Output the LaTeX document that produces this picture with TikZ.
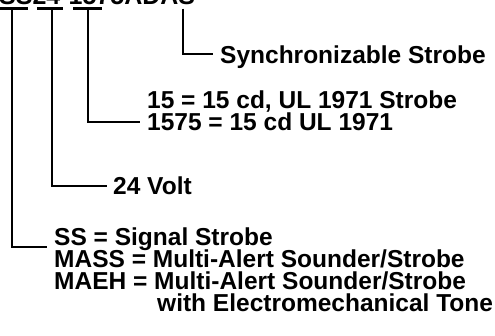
\documentclass[tikz,border=0pt]{standalone}
\usepackage{fontspec}
\setmainfont{Liberation Sans}
\begin{document}
\begin{tikzpicture}[x=1pt,y=-1pt,
  lbl/.style={anchor=base west, inner sep=0pt, font=\bfseries\fontsize{24.5}{22}\selectfont},
  toplbl/.style={anchor=base west, inner sep=0pt, font=\bfseries\fontsize{25}{25}\selectfont},
  conn/.style={line width=2.2pt, line join=miter}]
\useasboundingbox (0,0) rectangle (495,335);
\clip (0,0) rectangle (495,335);
% model number (cut off at top)
\node[toplbl] (model) at (-1,4) {SS24-1575ADAS};
% labels
\node[lbl] (sync) at (220,63) {Synchronizable Strobe};
\node[lbl] (c15) at (147,108) {15 = 15 cd, UL 1971 Strobe};
\node[lbl] (c1575) at (147,130) {1575 = 15 cd UL 1971};
\node[lbl] (volt) at (113,194) {24 Volt};
\node[lbl] (ss) at (54,245) {SS = Signal Strobe};
\node[lbl] (mass) at (54,267) {MASS = Multi-Alert Sounder/Strobe};
\node[lbl] (maeh) at (54,289) {MAEH = Multi-Alert Sounder/Strobe};
\node[lbl] (with) at (157,311) {with Electromechanical Tone};
% underline bars
\coordinate (b1l) at (0,8.5);  \coordinate (b1r) at (28,8.5);
\coordinate (b2l) at (37,8.5); \coordinate (b2r) at (63,8.5);
\coordinate (b3l) at (73,8.5); \coordinate (b3r) at (102,8.5);
\draw[conn] (b1l) -- (b1r);
\draw[conn] (b2l) -- (b2r);
\draw[conn] (b3l) -- (b3r);
% connector starts
\coordinate (t1) at (12,8.5);
\coordinate (t2) at (52,8.5);
\coordinate (t3) at (88,8.5);
\coordinate (t4) at (183,8.5);
% connectors
\draw[conn] (t1) |- ([xshift=-7pt,yshift=-2pt]ss.base west);
\draw[conn] (t2) |- ([xshift=-6pt,yshift=8pt]volt.base west);
\draw[conn] (t3) |- ([xshift=-7pt,yshift=8pt]c1575.base west);
\draw[conn] (t4) |- ([xshift=-7pt,yshift=9pt]sync.base west);
\end{tikzpicture}
\end{document}
